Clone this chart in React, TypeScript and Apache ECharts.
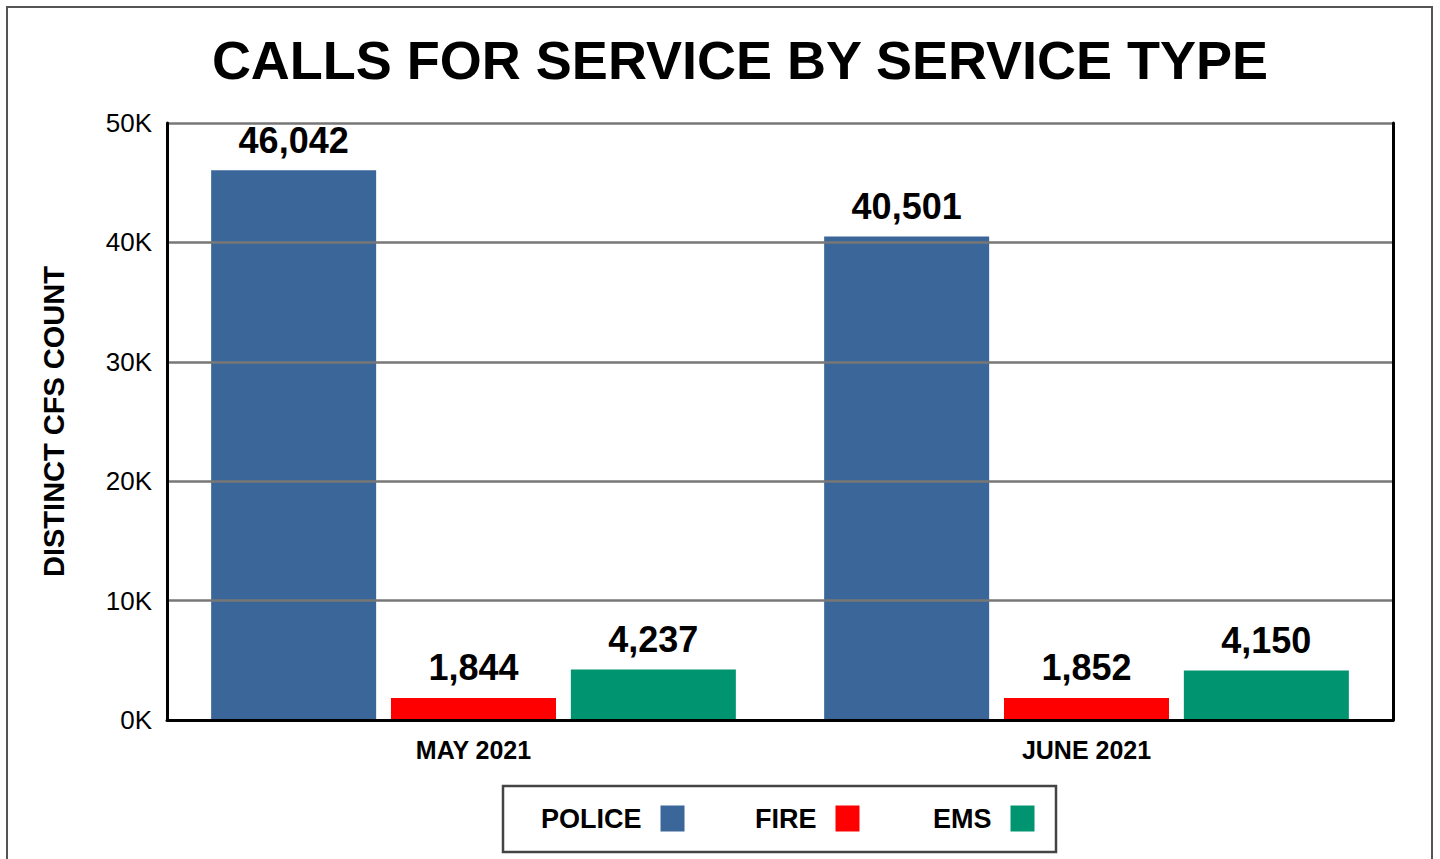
import React, { useEffect, useRef } from "react";
import * as echarts from "echarts";

const categories = ["MAY 2021", "JUNE 2021"];
const policeValues = [46042, 40501];
const fireValues = [1844, 1852];
const emsValues = [4237, 4150];
const seriesNames = ["POLICE", "FIRE", "EMS"];
const yTicks = [0, 10000, 20000, 30000, 40000, 50000];

const FONT = '"Liberation Sans", Arial, sans-serif';
const COLORS = ["#3b6699", "#ff0000", "#009470"];

export default function App() {
  const ref = useRef<HTMLDivElement>(null);
  useEffect(() => {
    if (!ref.current) return;
    const chart = echarts.init(ref.current, null, { renderer: "svg" });
    const fmt = (v: number) => v.toLocaleString("en-US");
    const label = {
      show: true,
      position: "top" as const,
      distance: 12,
      color: "#000",
      fontFamily: FONT,
      fontWeight: "bold" as const,
      fontSize: 36,
      formatter: (p: any) => fmt(p.value),
    };
    const legendBase = {
      orient: "horizontal" as const,
      align: "right" as const,
      icon: "rect",
      itemWidth: 24,
      itemHeight: 26,
      padding: 0,
      selectedMode: false,
      textStyle: {
        color: "#000",
        fontFamily: FONT,
        fontWeight: "bold" as const,
        fontSize: 27,
        padding: [0, 14, 0, 0],
      },
    };
    const option: any = {
      animation: false,
      backgroundColor: "#fff",
      color: COLORS,
      title: {
        text: "CALLS FOR SERVICE BY SERVICE TYPE",
        left: 735,
        textAlign: "center",
        top: 28,
        textStyle: {
          color: "#000",
          fontFamily: FONT,
          fontWeight: "bold",
          fontSize: 54,
        },
      },
      graphic: [
        {
          type: "rect",
          shape: { x: 7, y: 7, width: 1425, height: 880 },
          style: { fill: "none", stroke: "#555", lineWidth: 2 },
          z: 0,
          silent: true,
        },
        {
          type: "rect",
          shape: { x: 503, y: 786, width: 553, height: 66 },
          style: { fill: "none", stroke: "#444", lineWidth: 2.5 },
          z: 10,
          silent: true,
        },
      ],
      legend: [
        { ...legendBase, data: [seriesNames[0]], left: 541, top: 805 },
        { ...legendBase, data: [seriesNames[1]], left: 755, top: 805 },
        { ...legendBase, data: [seriesNames[2]], left: 933, top: 805 },
      ],
      grid: { left: 167, right: 47, top: 123, bottom: 139 },
      xAxis: {
        type: "category",
        data: categories,
        axisLine: { show: true, lineStyle: { color: "#000", width: 3 } },
        axisTick: { show: false },
        axisLabel: {
          color: "#000",
          fontFamily: FONT,
          fontWeight: "bold",
          fontSize: 25,
          margin: 17,
        },
        z: 5,
      },
      yAxis: [
        {
          type: "value",
          min: yTicks[0],
          max: yTicks[yTicks.length - 1],
          interval: 10000,
          name: "DISTINCT CFS COUNT",
          nameLocation: "middle",
          nameRotate: 90,
          nameGap: 99,
          nameTextStyle: {
            color: "#000",
            fontFamily: FONT,
            fontWeight: "bold",
            fontSize: 29,
          },
          axisLine: { show: true, lineStyle: { color: "#000", width: 3 } },
          axisTick: { show: false },
          axisLabel: {
            color: "#000",
            fontFamily: FONT,
            fontSize: 26,
            margin: 15,
            padding: [0, 0, 9, 0],
            formatter: (v: number) => v / 1000 + "K",
          },
          splitLine: { show: true, lineStyle: { color: "#777", width: 2.5 } },
          z: 5,
        },
        {
          type: "value",
          position: "right",
          min: yTicks[0],
          max: yTicks[yTicks.length - 1],
          interval: 10000,
          axisLine: { show: true, lineStyle: { color: "#000", width: 3 } },
          axisTick: { show: false },
          axisLabel: { show: false },
          splitLine: { show: false },
          z: 5,
        },
      ],
      series: [
        {
          name: seriesNames[0],
          type: "bar",
          data: policeValues,
          barWidth: 165,
          barGap: "9%",
          label,
        },
        {
          name: seriesNames[1],
          type: "bar",
          data: fireValues,
          barWidth: 165,
          barGap: "9%",
          label,
        },
        {
          name: seriesNames[2],
          type: "bar",
          data: emsValues,
          barWidth: 165,
          barGap: "9%",
          label,
        },
      ],
    };
    chart.setOption(option);
    return () => chart.dispose();
  }, []);
  return (
    <div
      ref={ref}
      style={{ position: "fixed", left: 0, top: 0, width: 1440, height: 859 }}
    />
  );
}
